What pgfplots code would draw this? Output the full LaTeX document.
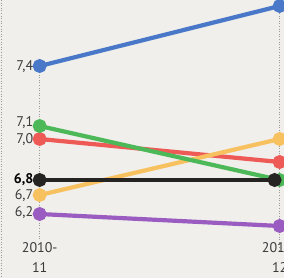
\documentclass[border=0pt]{standalone}
\usepackage{pgfplots}
\pgfplotsset{compat=1.18}
\usepackage{fontspec}
\setmainfont{PT Sans}
\definecolor{bg}{HTML}{F0EFEC}
\definecolor{cblue}{HTML}{4A78C8}
\definecolor{cgreen}{HTML}{4CB858}
\definecolor{cred}{HTML}{EE5A55}
\definecolor{cblack}{HTML}{252422}
\definecolor{cyellow}{HTML}{F7C160}
\definecolor{cpurple}{HTML}{9A5CC0}
\definecolor{cgray}{HTML}{9A9A9A}
\definecolor{ctext}{HTML}{3A3A3A}
\begin{document}
\begin{tikzpicture}
\path[use as bounding box, clip] (0,0) rectangle (284pt,278pt);
\fill[bg] (0,0) rectangle (284pt,278pt);
\begin{axis}[
  at={(0,0)}, anchor=south west,
  scale only axis, width=284pt, height=278pt,
  xmin=-0.1653, xmax=1.0181,
  ymin=0, ymax=278, y dir=reverse,
  hide axis, clip=false,
  every axis plot/.append style={line width=4.2pt, mark=*, mark size=4.8pt, mark options={line width=0.4pt}},
]
% dotted guides
\addplot[cgray, line width=0.6pt, dotted, mark=none] coordinates {(0,72) (0,240)};
\addplot[cgray, line width=0.6pt, dotted, mark=none] coordinates {(1,0) (1,252)};
\addplot[cgray, line width=0.6pt, dotted, mark=none] coordinates {(-0.1583,0) (-0.1583,278)};
% series (y = vertical position as drawn in the chart)
\addplot[cpurple, mark options={fill=cpurple}] coordinates {(0,214) (1,226)};
\addplot[cred, mark options={fill=cred}] coordinates {(0,139) (1,162)};
\addplot[cyellow, mark options={fill=cyellow}] coordinates {(0,195) (1,139)};
\addplot[cgreen, mark options={fill=cgreen}] coordinates {(0,126) (1,180)};
\addplot[cblack, mark options={fill=cblack}] coordinates {(0,180) (0.979,180)};
\addplot[cblue, mark options={fill=cblue}] coordinates {(0,66) (1,6)};
% value labels
\begin{scope}[every node/.style={anchor=east, text=ctext, font=\fontsize{14}{16}\selectfont, inner sep=0pt}]
\node at (axis cs:-0.026,67) {7,4};
\node at (axis cs:-0.026,123) {7,1};
\node at (axis cs:-0.026,140) {7,0};
\node[text=black, font=\fontsize{14}{16}\selectfont\bfseries] at (axis cs:-0.026,180) {6,8};
\node at (axis cs:-0.026,196) {6,7};
\node at (axis cs:-0.026,213) {6,2};
\end{scope}
\node[align=center, text=ctext, font=\fontsize{14}{20}\selectfont, inner sep=0pt] at (axis cs:0,258) {2010-\\11};
\node[align=center, text=ctext, font=\fontsize{14}{20}\selectfont, inner sep=0pt] at (axis cs:1,258) {2011-\\12};
\end{axis}
\end{tikzpicture}
\end{document}
